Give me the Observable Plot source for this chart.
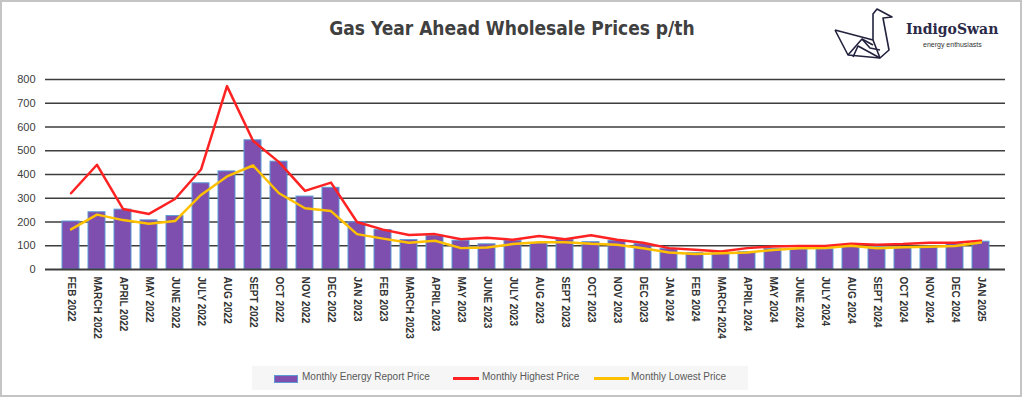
<!DOCTYPE html>
<html>
<head>
<meta charset="utf-8">
<script src="https://cdn.jsdelivr.net/npm/d3@7"></script>
<script src="https://cdn.jsdelivr.net/npm/@observablehq/plot@0.6"></script>
<style>
  html, body { margin: 0; padding: 0; background: #fff; }
  #root { position: relative; width: 1024px; height: 399px; overflow: hidden; background: #fff; }
  #frame { position: absolute; left: 0; top: 0; width: 1022px; height: 397px; box-sizing: border-box; border: 2px solid #c4c4c4; }
  #title { position: absolute; left: 0; top: 17px; width: 1024px; text-align: center;
    font-family: "Liberation Sans Narrow", "DejaVu Sans Condensed", "Liberation Sans", sans-serif;
    font-weight: bold; font-size: 19px; color: #404040; }
  #chart { position: absolute; left: 0; top: 0; }
  #logo { position: absolute; left: 830px; top: 4px; }
  #brand { position: absolute; left: 906px; top: 21px; font-family: "DejaVu Serif", serif; font-weight: bold; font-size: 14px; color: #2a2a48; }
  #tag { position: absolute; left: 923px; top: 41px; font-family: "Liberation Sans", sans-serif; font-size: 7px; color: #333; }
  #legend { position: absolute; left: 252px; top: 366px; width: 496px; height: 24px; background: #f6f6f6; }
  .lg-text { position: absolute; top: 5px; font-family: "Liberation Sans", sans-serif; font-size: 10px; color: #595959; white-space: nowrap; }
  .lg-sw { position: absolute; }
</style>
</head>
<body>
<div id="root">
  <div id="frame"></div>
  <div id="title"></div>
  <div id="chart"></div>
  <svg id="logo" width="70" height="62" viewBox="830 4 70 62">
    <g fill="none" stroke="#22223e" stroke-width="1.6" stroke-linejoin="round">
      <polyline points="835,30 848,55 880,58 889,50 883,18 892,17 877,9 873,14 873,40 835,30"/>
      <polyline points="848,55 862,39 873,45"/>
      <polyline points="853,57 858,46 880,58"/>
      <polyline points="862,39 870,48 880,50"/>
      <polyline points="873,40 880,58"/>
    </g>
  </svg>
  <div id="brand">IndigoSwan</div>
  <div id="tag">energy enthusiasts</div>
  <div id="legend"></div>
</div>
<script>
const months = ["FEB 2022","MARCH 2022","APRIL 2022","MAY 2022","JUNE 2022","JULY 2022","AUG 2022","SEPT 2022","OCT 2022","NOV 2022","DEC 2022","JAN 2023",
  "FEB 2023","MARCH 2023","APRIL 2023","MAY 2023","JUNE 2023","JULY 2023","AUG 2023","SEPT 2023","OCT 2023","NOV 2023","DEC 2023","JAN 2024",
  "FEB 2024","MARCH 2024","APRIL 2024","MAY 2024","JUNE 2024","JULY 2024","AUG 2024","SEPT 2024","OCT 2024","NOV 2024","DEC 2024","JAN 2025"];
const reportPrice = [202,241,252,207,225,363,413,544,454,307,344,199,
  166,124,142,121,106,121,111,124,115,121,107,86,
  69,69,73,86,86,85,96,93,93,96,107,117];
const highestPrice = [321,441,255,234,297,421,772,542,452,331,366,200,
  168,145,149,127,134,125,141,127,144,125,113,90,
  83,76,90,97,99,99,108,104,107,113,113,121];
const lowestPrice = [169,231,208,193,204,314,392,438,321,258,246,149,
  130,113,121,90,93,107,115,115,108,104,89,72,
  65,68,72,82,89,90,100,89,94,96,99,114];
const yTicks = [0,100,200,300,400,500,600,700,800];
const gridTicks = [100,200,300,400,500,600,700,800];
const seriesNames = ["Monthly Energy Report Price","Monthly Highest Price","Monthly Lowest Price"];
const titleText = "Gas Year Ahead Wholesale Prices p/th";

const rows = months.map((m, i) => ({month: m, report: reportPrice[i], high: highestPrice[i], low: lowestPrice[i]}));

document.getElementById("title").textContent = titleText;

const chart = Plot.plot({
  width: 1024,
  height: 399,
  marginTop: 79,
  marginBottom: 130,
  marginLeft: 45,
  marginRight: 19,
  style: {fontFamily: "'Liberation Sans', Arial, sans-serif", color: "#404040", background: "transparent"},
  x: {domain: months, paddingInner: 0.36, paddingOuter: 0.2, axis: null},
  y: {domain: [0, 800], axis: null},
  marks: [
    Plot.ruleY(gridTicks, {stroke: "#3d3d3d", strokeWidth: 1.5}),
    Plot.barY(rows, {x: "month", y: "report", fill: "#7e4fae", stroke: "#5b9bd5", strokeWidth: 1}),
    Plot.ruleY([0], {stroke: "#3d3d3d", strokeWidth: 2}),
    Plot.line(rows, {x: "month", y: "high", stroke: "#ff2222", strokeWidth: 2.5}),
    Plot.line(rows, {x: "month", y: "low", stroke: "#ffc000", strokeWidth: 2.5}),
    Plot.axisY(yTicks, {tickSize: 0, tickPadding: 10, fontSize: 11, label: null, fill: "#404040"}),
    Plot.axisX({tickRotate: 90, tickSize: 0, tickPadding: 7, fontSize: 10, fontWeight: "bold", label: null, fill: "#333"})
  ]
});
document.getElementById("chart").appendChild(chart);

// legend
const legend = document.getElementById("legend");
const items = [
  {name: seriesNames[0], kind: "bar", sx: 22, tx: 50},
  {name: seriesNames[1], kind: "line", color: "#ff2222", sx: 201, sw: 26, tx: 230},
  {name: seriesNames[2], kind: "line", color: "#ffc000", sx: 342, sw: 35, tx: 379}
];
for (const it of items) {
  const sw = document.createElement("div");
  sw.className = "lg-sw";
  if (it.kind === "bar") {
    Object.assign(sw.style, {left: it.sx + "px", top: "9px", width: "22px", height: "6px", background: "#7e4fae", border: "1px solid #5b9bd5"});
  } else {
    Object.assign(sw.style, {left: it.sx + "px", top: "11px", width: it.sw + "px", height: "2.5px", background: it.color});
  }
  legend.appendChild(sw);
  const t = document.createElement("div");
  t.className = "lg-text";
  t.style.left = it.tx + "px";
  t.textContent = it.name;
  legend.appendChild(t);
}
</script>
</body>
</html>
